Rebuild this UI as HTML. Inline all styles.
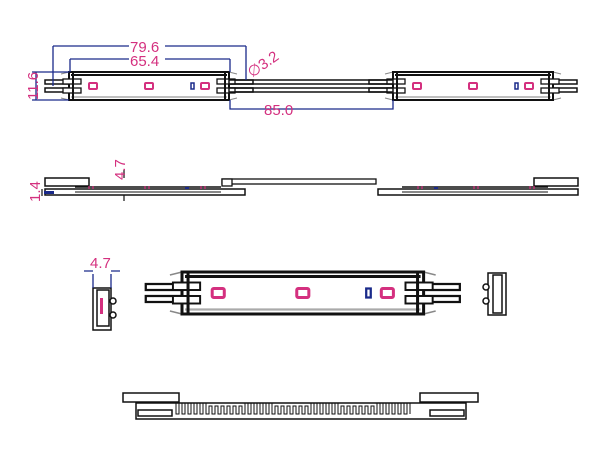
<!DOCTYPE html>
<html><head><style>
html,body{margin:0;padding:0;background:#fff;width:600px;height:455px;overflow:hidden}
svg{display:block}
text{font-family:"Liberation Sans",sans-serif;fill:#d4307f;font-size:15px}
</style></head><body>
<svg width="600" height="455" viewBox="0 0 600 455" xmlns="http://www.w3.org/2000/svg">
<defs>
<g id="mod">
 <rect x="-24" y="8" width="208" height="4" fill="none" stroke="#111" stroke-width="1.5"/>
 <rect x="-24" y="16" width="208" height="4" fill="none" stroke="#111" stroke-width="1.5"/>
 <path d="M-8 2 L0 0 M-8 26 L0 28 M160 0 L168 2 M160 28 L168 26" stroke="#888" fill="none"/>
 <rect x="0" y="0" width="160" height="28" fill="#fff" stroke="#111" stroke-width="2"/>
 <line x1="2" y1="3" x2="158" y2="3" stroke="#111" stroke-width="2"/>
 <line x1="2" y1="25" x2="158" y2="25" stroke="#aaa" stroke-width="1.5"/>
 <rect x="-6" y="7" width="18" height="5" fill="#fff" stroke="#111" stroke-width="1.3"/>
 <rect x="-6" y="16" width="18" height="5" fill="#fff" stroke="#111" stroke-width="1.3"/>
 <rect x="148" y="7" width="18" height="5" fill="#fff" stroke="#111" stroke-width="1.3"/>
 <rect x="148" y="16" width="18" height="5" fill="#fff" stroke="#111" stroke-width="1.3"/>
 <line x1="4" y1="1" x2="4" y2="27" stroke="#111" stroke-width="2"/>
 <line x1="156" y1="1" x2="156" y2="27" stroke="#111" stroke-width="2"/>
 <rect x="20" y="11" width="8" height="6" rx="1" fill="none" stroke="#d4307f" stroke-width="2"/>
 <rect x="76" y="11" width="8" height="6" rx="1" fill="none" stroke="#d4307f" stroke-width="2"/>
 <rect x="132" y="11" width="8" height="6" rx="1" fill="none" stroke="#d4307f" stroke-width="2"/>
 <rect x="122" y="11" width="3" height="6" fill="none" stroke="#1a2a8a" stroke-width="1.5"/>
</g>
<g id="side">
 <rect x="0" y="0" width="44" height="8" fill="#fff" stroke="#111" stroke-width="1.5"/>
 <rect x="0" y="11" width="200" height="6" fill="#fff" stroke="#111" stroke-width="1.5"/>
 <line x1="30" y1="9" x2="176" y2="9" stroke="#111" stroke-width="1.5"/>
 <line x1="30" y1="14" x2="176" y2="14" stroke="#111" stroke-width="1"/>
 <g stroke="#d4307f" stroke-width="1.2" fill="none">
  <path d="M44 8v3M48 8v3M100 8v3M104 8v3M156 8v3M160 8v3"/>
 </g>
 <rect x="140" y="9" width="4" height="2" fill="#1a2a8a"/>
</g>
</defs>

<use href="#mod" x="69" y="72"/>
<use href="#mod" x="393" y="72"/>
<rect x="229" y="80" width="164" height="4" fill="none" stroke="#111" stroke-width="1.5"/>
<rect x="229" y="88" width="164" height="4" fill="none" stroke="#111" stroke-width="1.5"/>
<g stroke="#1a2a8a" stroke-width="1.3" fill="none">
 <path d="M53 46H246M53 46V86M246 46V80"/>
 <path d="M70 59H230M70 59V72M230 59V72"/>
 <path d="M230 100V109H393V100"/>
 <path d="M36 72V100M32 72H69M32 100H69"/>
</g>
<rect x="129" y="38" width="36" height="14" fill="#fff"/>
<text x="130" y="52">79.6</text>
<rect x="129" y="53" width="36" height="13" fill="#fff"/>
<text x="130" y="66">65.4</text>
<text x="264" y="115">85.0</text>
<text x="252" y="78" transform="rotate(-35 252 78)">∅3.2</text>
<text x="0" y="0" transform="translate(38 100) rotate(-90)">11.6</text>

<use href="#side" x="45" y="178"/>
<g transform="translate(578 178) scale(-1 1)"><use href="#side"/></g>
<rect x="222" y="179" width="154" height="5" fill="#fff" stroke="#111" stroke-width="1.3"/>
<rect x="222" y="179" width="10" height="7" fill="#fff" stroke="#111" stroke-width="1.3"/>
<path d="M124 170V178M124 195V201M42 189V196" stroke="#111" stroke-width="1.2"/>
<rect x="44" y="191" width="10" height="3" fill="#1a2a8a"/>
<text x="0" y="0" transform="translate(125 180) rotate(-90)">4.7</text>
<text x="0" y="0" transform="translate(40 202) rotate(-90)">1.4</text>

<g stroke="#111" stroke-width="1.5" fill="#fff">
 <rect x="93" y="288" width="18" height="42"/>
 <rect x="97" y="290" width="12" height="36"/>
 <circle cx="113" cy="301" r="3"/><circle cx="113" cy="315" r="3"/>
 <rect x="488" y="273" width="18" height="42"/>
 <rect x="493" y="275" width="9" height="38"/>
 <circle cx="486" cy="287" r="3"/><circle cx="486" cy="301" r="3"/>
</g>
<path d="M93 274V288M111 274V288M84 271H93M111 271H120" stroke="#1a2a8a" stroke-width="1.3"/>
<rect x="100" y="298" width="3" height="16" fill="#d4307f"/>
<text x="90" y="268">4.7</text>

<g transform="translate(182 272) scale(1.51 1.5)">
 <use href="#mod"/>
</g>

<g stroke="#111" stroke-width="1.5" fill="#fff">
 <rect x="136" y="403" width="330" height="16"/>
 <rect x="123" y="393" width="56" height="9"/>
 <rect x="420" y="393" width="58" height="9"/>
 <rect x="138" y="410" width="34" height="6"/>
 <rect x="430" y="410" width="34" height="6"/>
</g>
<path d="M176 403 v11 h3 v-11 h3 v11 h3 v-11 h3 v11 h3 v-11 h3 v11 h3 v-11 h3 v11 h3 v-11 h3 v11 h3 v-8 h3 v8 h3 v-8 h3 v8 h3 v-8 h3 v8 h3 v-8 h3 v8 h3 v-8 h3 v8 h3 v-8 h3 v8 h3 v-11 h3 v11 h3 v-11 h3 v11 h3 v-11 h3 v11 h3 v-11 h3 v11 h3 v-11 h3 v11 h3 v-8 h3 v8 h3 v-8 h3 v8 h3 v-8 h3 v8 h3 v-8 h3 v8 h3 v-8 h3 v8 h3 v-8 h3 v8 h3 v-11 h3 v11 h3 v-11 h3 v11 h3 v-11 h3 v11 h3 v-11 h3 v11 h3 v-11 h3 v11 h3 v-8 h3 v8 h3 v-8 h3 v8 h3 v-8 h3 v8 h3 v-8 h3 v8 h3 v-8 h3 v8 h3 v-8 h3 v8 h3 v-11 h3 v11 h3 v-11 h3 v11 h3 v-11 h3 v11 h3 v-11 h3 v11 h3 v-11 h3 v11 h3 v-11 h3 v11" fill="none" stroke="#111" stroke-width="1"/>
</svg>
</body></html>
